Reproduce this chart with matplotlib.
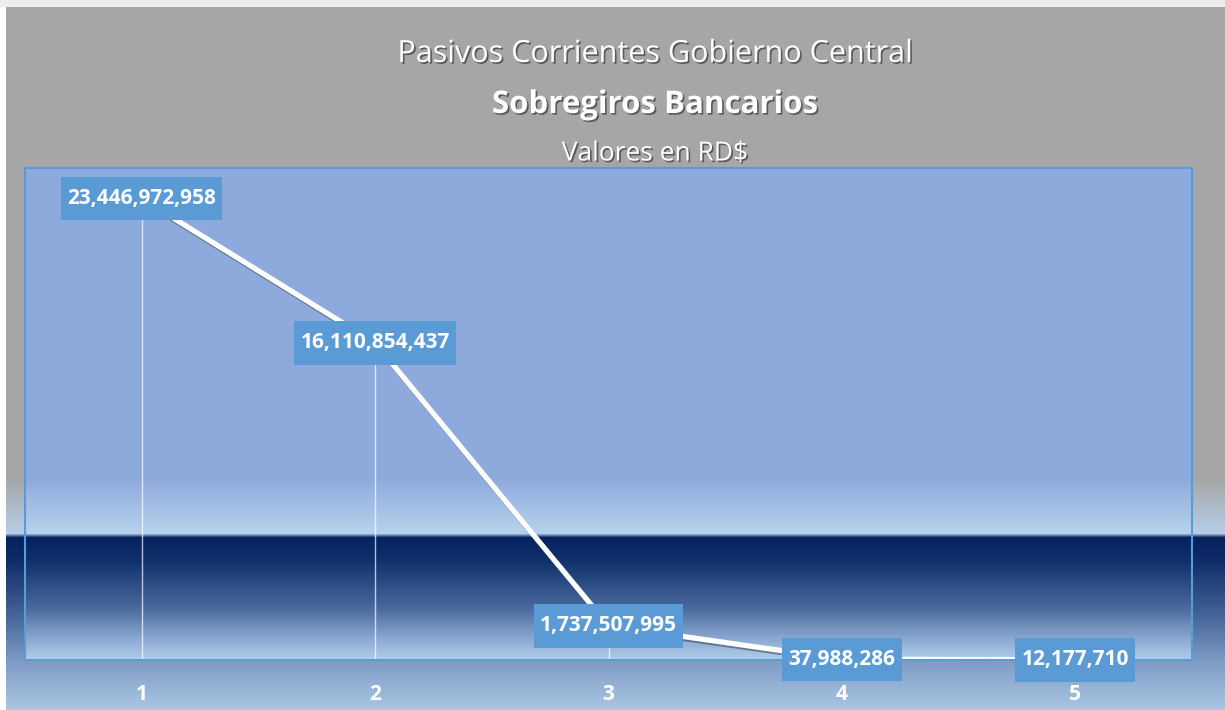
import numpy as np
import matplotlib.pyplot as plt
import matplotlib.patheffects as pe
from matplotlib.colors import to_rgb
from matplotlib.patches import Rectangle

# datos
categorias = ['1', '2', '3', '4', '5']
valores = [23446972958, 16110854437, 1737507995, 37988286, 12177710]
titulo = 'Pasivos Corrientes Gobierno Central'
subtitulo = 'Sobregiros Bancarios'
unidades = 'Valores en RD$'

W, H = 1225, 710


def gradiente(stops, n):
    # stops: (fila, color) -> array (n, 1, 3)
    pos = [s[0] for s in stops]
    cols = np.array([to_rgb(s[1]) for s in stops])
    y = np.arange(n)
    return np.stack([np.interp(y, pos, cols[:, k]) for k in range(3)], axis=-1)[:, None, :]


plt.rcParams['font.family'] = ['Open Sans', 'DejaVu Sans']

fig = plt.figure(figsize=(W / 100, H / 100), dpi=100)

# fondo de la figura
bg = fig.add_axes([0, 0, 1, 1], zorder=-10)
fondo = gradiente([(0, '#a6a6a6'), (478, '#a6a6a6'), (531, '#b5cde6'), (533, '#b5cde6'),
                   (537, '#05225f'), (560, '#0f2c68'), (610, '#3f5f93'), (660, '#7e9bc5'),
                   (709, '#abc6e3')], H)
bg.imshow(fondo, aspect='auto', extent=[0, 1, 0, 1])
bg.set_xlim(0, 1)
bg.set_ylim(0, 1)
bg.axis('off')

# area de trazado
x0, x1, y0, y1 = 25, 1192, 168, 660
ax = fig.add_axes([x0 / W, 1 - y1 / H, (x1 - x0) / W, (y1 - y0) / H])
ax.patch.set_visible(False)

area = gradiente([(0, '#8eaadc'), (310, '#8eaadc'), (362, '#b5d0ec'), (365, '#b5d0ec'),
                  (369, '#05225f'), (392, '#10306c'), (440, '#4a6a9e'), (470, '#8aa8d0'),
                  (491, '#b2cdea')], y1 - y0)
xs = np.arange(1, len(categorias) + 1)
ymax = 25e9
ax.imshow(area, aspect='auto', extent=[0.5, len(categorias) + 0.5, 0, ymax], zorder=0)

# lineas de caida
ax.vlines(xs, 0, valores, colors='white', lw=1, alpha=0.7, zorder=1)

# serie
ax.plot(xs, valores, color='white', lw=3.8, zorder=2, solid_capstyle='round',
        path_effects=[pe.SimpleLineShadow(offset=(1, -1.5), alpha=0.35), pe.Normal()])

for x, v in zip(xs, valores):
    ax.text(x, v, f'{v:,}', ha='center', va='center', color='white', fontsize=15,
            fontweight='bold', zorder=5, clip_on=False,
            bbox=dict(boxstyle='square,pad=0.3', mutation_aspect=1.8,
                      fc='#5b9bd5', ec='none'))

ax.set_xlim(0.5, len(categorias) + 0.5)
ax.set_ylim(0, ymax)
ax.set_xticks(xs)
ax.set_xticklabels(categorias, color='white', fontsize=15, fontweight='bold')
ax.tick_params(axis='x', length=0, pad=17)
ax.set_yticks([])
for s in ax.spines.values():
    s.set_color('#5b9bd5')
    s.set_linewidth(1.5)

# titulos
sombra = [pe.withSimplePatchShadow(offset=(1.2, -1.2), shadow_rgbFace='black', alpha=0.45)]
cx = 655 / W
fig.text(cx, 1 - 54 / H, titulo, ha='center', va='center', color='white', fontsize=22,
         path_effects=sombra)
fig.text(cx, 1 - 105 / H, subtitulo, ha='center', va='center', color='white', fontsize=22.5,
         fontweight='bold', path_effects=sombra)
fig.text(cx, 1 - 154 / H, unidades, ha='center', va='center', color='white', fontsize=19,
         path_effects=sombra)

# marco claro
fig.patches.append(Rectangle((0, 0), 6 / W, 1, transform=fig.transFigure, fc='white', ec='none'))
fig.patches.append(Rectangle((0, 1 - 7 / H), 1, 7 / H, transform=fig.transFigure,
                             fc='#ececec', ec='none'))

fig.savefig('out.png', dpi=100)
